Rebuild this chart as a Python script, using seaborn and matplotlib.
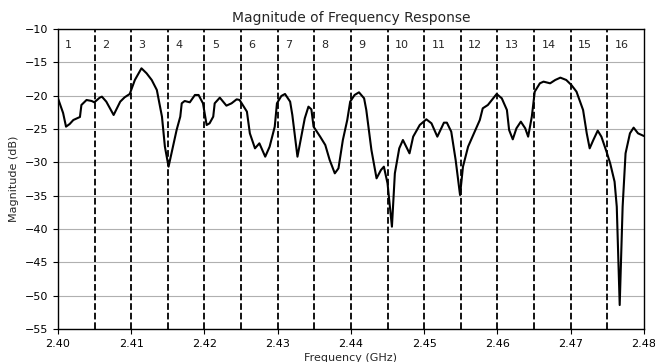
import matplotlib
matplotlib.use("Agg")
import matplotlib.pyplot as plt
import seaborn as sns
import pandas as pd
import numpy as np

freq_ghz = [
    2.4000, 2.4007, 2.4011, 2.4016, 2.4021, 2.4028, 2.4030, 2.4032, 2.4039, 2.4046,
    2.40496, 2.4057, 2.4060, 2.4066, 2.4076, 2.4085, 2.4091, 2.4098, 2.4105, 2.4114,
    2.4121, 2.4128, 2.4135, 2.4142, 2.4146, 2.4151, 2.4155, 2.4162, 2.4167, 2.4169,
    2.4173, 2.4180, 2.4187, 2.4192, 2.4198, 2.4203, 2.4207, 2.4212, 2.4214, 2.4221,
    2.4230, 2.4237, 2.4244, 2.4248, 2.4258, 2.4262, 2.4269, 2.4275, 2.4283, 2.4289,
    2.4296, 2.4299, 2.4305, 2.4310, 2.4317, 2.4320, 2.4327, 2.4333, 2.4337, 2.4342,
    2.4346, 2.4349, 2.4358, 2.4365, 2.4371, 2.4378, 2.4383, 2.4389, 2.4395, 2.4399,
    2.4405, 2.4411, 2.4418, 2.4421, 2.4428, 2.4435, 2.4441, 2.4445, 2.4450, 2.4456,
    2.4460, 2.4466, 2.4471, 2.4480, 2.4485, 2.4494, 2.4503, 2.4510, 2.4518, 2.4527,
    2.4531, 2.4537, 2.4543, 2.4549, 2.4553, 2.4560, 2.4567, 2.4576, 2.4580, 2.4587,
    2.4599, 2.4606, 2.4613, 2.4616, 2.4621, 2.4626, 2.4632, 2.4638, 2.4642, 2.4647,
    2.4651, 2.4658, 2.4663, 2.4672, 2.4679, 2.4686, 2.4694, 2.4701, 2.4708, 2.4717,
    2.4722, 2.4726, 2.4731, 2.4737, 2.4742, 2.4749, 2.4754, 2.4760, 2.4763, 2.4767,
    2.4771, 2.4775, 2.4781, 2.4786, 2.4792, 2.4800,
]
magnitude_db = [
    -20.4, -22.6, -24.65, -24.25, -23.65, -23.3, -23.2, -21.4, -20.65, -20.8,
    -21.0, -20.3, -20.15, -20.9, -22.9, -20.9, -20.25, -19.75, -17.65, -15.9,
    -16.65, -17.65, -19.15, -23.15, -27.65, -30.65, -28.65, -25.15, -23.15, -21.15,
    -20.8, -21.0, -19.9, -19.9, -21.15, -24.4, -24.15, -23.15, -21.15, -20.3,
    -21.5, -21.15, -20.55, -20.65, -22.4, -25.65, -27.9, -27.15, -29.15, -27.65,
    -24.65, -21.15, -20.05, -19.75, -20.9, -22.9, -29.15, -25.65, -23.4, -21.65,
    -22.05, -24.65, -26.15, -27.4, -29.65, -31.65, -30.9, -26.65, -23.65, -20.9,
    -19.9, -19.5, -20.4, -22.15, -28.15, -32.4, -31.15, -30.65, -33.15, -39.65,
    -31.65, -27.9, -26.65, -28.65, -26.15, -24.4, -23.55, -24.15, -26.15, -24.05,
    -24.05, -25.4, -29.65, -34.9, -30.65, -27.65, -25.9, -23.65, -21.9, -21.4,
    -19.75, -20.4, -22.15, -25.15, -26.55, -24.9, -23.9, -24.9, -26.15, -23.15,
    -19.4, -18.15, -17.9, -18.15, -17.65, -17.3, -17.65, -18.4, -19.4, -22.15,
    -25.65, -27.9, -26.65, -25.25, -26.15, -28.4, -30.15, -32.9, -36.65, -51.4,
    -36.65, -28.65, -25.65, -24.8, -25.65, -26.05,
]
channel_edges = [2.405, 2.410, 2.415, 2.420, 2.425, 2.430, 2.435, 2.440,
                 2.445, 2.450, 2.455, 2.460, 2.465, 2.470, 2.475]
channel_starts = [2.400, 2.405, 2.410, 2.415, 2.420, 2.425, 2.430, 2.435,
                  2.440, 2.445, 2.450, 2.455, 2.460, 2.465, 2.470, 2.475]
channel_labels = [str(i) for i in range(1, 17)]
x_ticks = [2.40, 2.41, 2.42, 2.43, 2.44, 2.45, 2.46, 2.47, 2.48]
y_ticks = [-55, -50, -45, -40, -35, -30, -25, -20, -15, -10]

sns.set_style("ticks")
plt.rcParams["font.family"] = ["DejaVu Sans"]
plt.rcParams["font.size"] = 8

df = pd.DataFrame({"freq": freq_ghz, "mag": magnitude_db})

fig = plt.figure(figsize=(6.55, 3.62), dpi=100)
ax = fig.add_axes([0.0885, 0.091, 0.8945, 0.829])

ax.yaxis.grid(True, color="#b0b0b0", linewidth=0.8)
ax.set_axisbelow(True)

sns.lineplot(data=df, x="freq", y="mag", color="black", linewidth=1.5, ax=ax,
             sort=False, estimator=None)

for e in channel_edges:
    ax.axvline(e, color="black", linestyle="--", linewidth=1.3)

for s, lab in zip(channel_starts, channel_labels):
    ax.text(s + 0.001, -12.4, lab, ha="left", va="center", fontsize=8)

ax.set_xlim(2.40, 2.48)
ax.set_ylim(-55, -10)
ax.set_xticks(x_ticks)
ax.set_xticklabels([f"{t:.2f}" for t in x_ticks])
ax.set_yticks(y_ticks)
ax.set_yticklabels([f"\u2212{abs(t)}" for t in y_ticks])
ax.tick_params(labelsize=8, colors="black", direction="out", length=3.5)
for sp in ax.spines.values():
    sp.set_color("black")
    sp.set_linewidth(1.0)

ax.set_title("Magnitude of Frequency Response", fontsize=10, pad=5)
ax.set_xlabel("Frequency (GHz)", fontsize=8, labelpad=3)
ax.set_ylabel("Magnitude (dB)", fontsize=8, labelpad=4)

fig.savefig("out.png", dpi=100)
